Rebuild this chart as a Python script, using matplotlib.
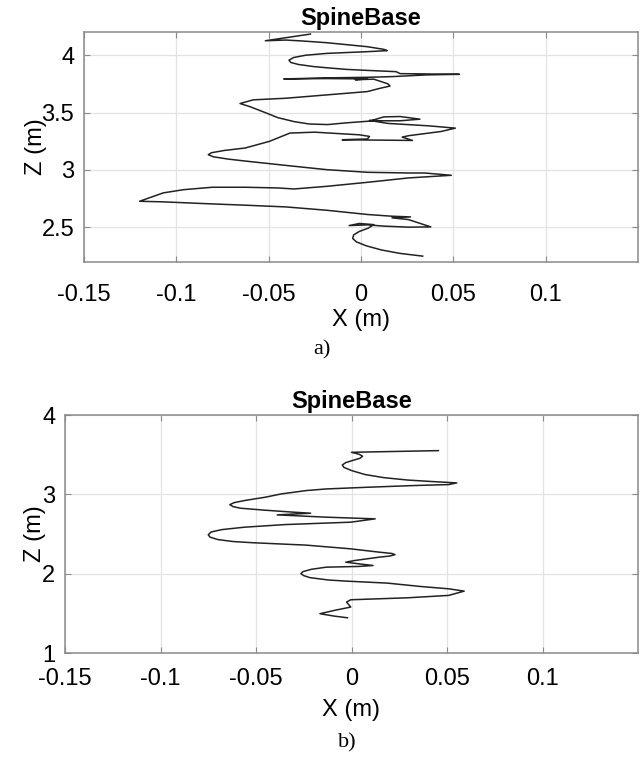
import matplotlib
matplotlib.use("Agg")
import matplotlib.pyplot as plt
import numpy as np

# trajectory a) : X (m) and Z (m)
xa = [-0.0274, -0.0518, -0.0407, -0.0319, -0.0186, 0.0035, 0.0124, 0.0142, 0.0035, -0.0186,
      -0.0300, -0.0365, -0.0390, -0.0380, -0.0340, -0.0260, -0.0186, -0.0080, 0.0035, 0.0190,
      0.0212, 0.0367, 0.0533, 0.0356, 0.0168, 0.0035, -0.0186, -0.0418, -0.0186, 0.0035,
      -0.0031, 0.0069, 0.0146, 0.0157, 0.0102, 0.0035, -0.0186, -0.0407, -0.0584, -0.0655,
      -0.0600, -0.0520, -0.0450, -0.0360, -0.0280, -0.0180, -0.0080, 0.0046, 0.0124, 0.0212,
      0.0319, 0.0212, 0.0102, 0.0046, 0.0146, 0.0367, 0.0511, 0.0434, 0.0257, 0.0223,
      0.0279, -0.0102, 0.0035, 0.0046, -0.0009, -0.0252, -0.0385, -0.0496, -0.0628, -0.0740,
      -0.0810, -0.0827, -0.0800, -0.0720, -0.0628, -0.0407, -0.0186, 0.0035, 0.0257, 0.0345,
      0.0489, 0.0257, 0.0035, -0.0186, -0.0363, -0.0451, -0.0628, -0.0805, -0.0960, -0.1071,
      -0.1199, -0.1071, -0.0850, -0.0628, -0.0407, -0.0186, 0.0035, 0.0168, 0.0268, 0.0168,
      0.0257, 0.0378, 0.0257, 0.0124, 0.0035, -0.0064, -0.0009, 0.0069, 0.0040, -0.0010,
      -0.0040, -0.0045, -0.0025, 0.0030, 0.0110, 0.0210, 0.0334]
za = [4.182, 4.124, 4.130, 4.122, 4.107, 4.072, 4.049, 4.038, 4.029, 4.014,
      3.998, 3.978, 3.955, 3.935, 3.918, 3.900, 3.889, 3.875, 3.866, 3.855,
      3.838, 3.835, 3.832, 3.827, 3.812, 3.806, 3.801, 3.792, 3.795, 3.792,
      3.785, 3.790, 3.749, 3.730, 3.710, 3.682, 3.653, 3.624, 3.610, 3.578,
      3.550, 3.500, 3.455, 3.420, 3.400, 3.395, 3.410, 3.425, 3.462, 3.465,
      3.442, 3.428, 3.428, 3.431, 3.405, 3.384, 3.364, 3.335, 3.298, 3.286,
      3.257, 3.263, 3.270, 3.292, 3.306, 3.329, 3.321, 3.249, 3.191, 3.170,
      3.150, 3.133, 3.115, 3.095, 3.078, 3.040, 3.003, 2.980, 2.974, 2.974,
      2.954, 2.931, 2.893, 2.858, 2.835, 2.844, 2.850, 2.850, 2.829, 2.801,
      2.728, 2.723, 2.708, 2.694, 2.679, 2.650, 2.613, 2.598, 2.592, 2.584,
      2.569, 2.505, 2.503, 2.512, 2.523, 2.517, 2.535, 2.525, 2.495, 2.465,
      2.435, 2.405, 2.375, 2.340, 2.305, 2.275, 2.251]

# trajectory b)
xb = [0.0455, 0.0000, 0.0040, 0.0058, 0.0045, 0.0010, -0.0030, -0.0048, -0.0040, 0.0000,
      0.0070, 0.0170, 0.0295, 0.0423, 0.0551, 0.0509, 0.0316, 0.0081, -0.0132, -0.0239,
      -0.0303, -0.0368, -0.0453, -0.0560, -0.0615, -0.0637, -0.0620, -0.0581, -0.0453, -0.0303,
      -0.0214, -0.0389, -0.0132, 0.0124, -0.0004, -0.0346, -0.0560, -0.0680, -0.0735, -0.0750,
      -0.0740, -0.0700, -0.0620, -0.0517, -0.0239, -0.0004, 0.0145, 0.0210, 0.0228, 0.0200,
      0.0145, 0.0017, -0.0030, 0.0038, 0.0113, 0.0038, -0.0132, -0.0210, -0.0255, -0.0265,
      -0.0250, -0.0218, -0.0120, -0.0026, 0.0188, 0.0359, 0.0509, 0.0590, 0.0509, 0.0295,
      -0.0004, -0.0026, -0.0004, -0.0090, -0.0165, -0.0090, -0.0021]
zb = [3.551, 3.530, 3.505, 3.480, 3.455, 3.430, 3.400, 3.370, 3.340, 3.300,
      3.250, 3.210, 3.180, 3.161, 3.144, 3.123, 3.110, 3.089, 3.068, 3.047,
      3.026, 3.005, 2.963, 2.922, 2.895, 2.870, 2.845, 2.825, 2.800, 2.775,
      2.762, 2.741, 2.712, 2.691, 2.649, 2.619, 2.586, 2.555, 2.525, 2.490,
      2.460, 2.430, 2.405, 2.390, 2.360, 2.313, 2.271, 2.255, 2.240, 2.222,
      2.208, 2.166, 2.145, 2.124, 2.103, 2.091, 2.082, 2.055, 2.025, 2.000,
      1.975, 1.950, 1.920, 1.906, 1.881, 1.839, 1.809, 1.780, 1.726, 1.696,
      1.671, 1.642, 1.579, 1.537, 1.495, 1.465, 1.444]

xticks = [-0.15, -0.1, -0.05, 0, 0.05, 0.1]
xticklabels = ["-0.15", "-0.1", "-0.05", "0", "0.05", "0.1"]
zticks_a = [2.5, 3, 3.5, 4]
zticks_b = [1, 2, 3, 4]

plt.rcParams["font.family"] = ["Liberation Sans", "DejaVu Sans"]

fig = plt.figure(figsize=(6.4, 7.64), dpi=100)


def style_axes(ax, zticks, zlabels):
    ax.set_xlim(-0.15, 0.15)
    ax.set_xticks(xticks)
    ax.set_xticklabels(xticklabels)
    ax.set_yticks(zticks)
    ax.set_yticklabels(zlabels)
    ax.grid(True, color="#e3e3e3", linewidth=0.9)
    ax.set_axisbelow(True)
    for s in ax.spines.values():
        s.set_color("#8a8a8a")
        s.set_linewidth(1.1)
    ax.tick_params(direction="in", length=4, width=0.8, color="#8a8a8a",
                   top=True, right=True, labelsize=17, pad=7)
    ax.set_title("SpineBase", fontsize=17, fontweight="bold", pad=5)
    ax.set_xlabel("X (m)", fontsize=17, labelpad=2)


ax1 = fig.add_axes([84 / 640, 1 - 262 / 764, 554 / 640, 230 / 764])
ax1.plot(xa, za, color="#222222", linewidth=1.1)
ax1.set_ylim(2.2, 4.2)
style_axes(ax1, zticks_a, ["2.5", "3", "3.5", "4"])
ax1.tick_params(axis="x", pad=16)
ax1.set_ylabel("Z (m)", fontsize=17, labelpad=-4)

ax2 = fig.add_axes([65 / 640, 1 - 653 / 764, 573 / 640, 238 / 764])
ax2.plot(xb, zb, color="#222222", linewidth=1.1)
ax2.set_ylim(1, 4)
style_axes(ax2, zticks_b, ["1", "2", "3", "4"])
ax2.tick_params(axis="x", pad=11)
ax2.xaxis.labelpad = 6
ax2.set_ylabel("Z (m)", fontsize=17, labelpad=-3)

fig.text(322 / 640, 1 - 350 / 764, "a)", ha="center", va="center",
         fontsize=16, family=["Liberation Serif", "DejaVu Serif"])
fig.text(347 / 640, 1 - 743 / 764, "b)", ha="center", va="center",
         fontsize=16, family=["Liberation Serif", "DejaVu Serif"])

fig.savefig("out.png", dpi=100)
